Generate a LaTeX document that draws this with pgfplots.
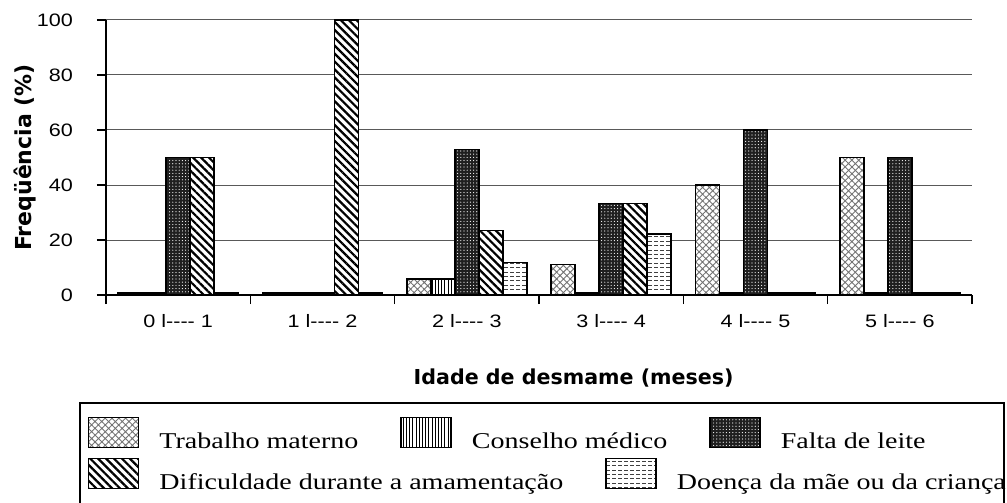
\documentclass[border=0pt]{standalone}
\usepackage{fontspec}
\usepackage{pgfplots}
\usepackage{pgfplotstable}
\pgfplotsset{compat=1.18}
\usetikzlibrary{patterns.meta}
\setmainfont{Liberation Serif}
\newfontfamily\ticksfont[FakeStretch=1.2]{Liberation Sans}
\newfontfamily\legfont[FakeStretch=1.24]{Liberation Serif}
\newfontfamily\labfont{DejaVu Sans}

\pgfdeclarepattern{
  name=hdashes,
  type=uncolored,
  bottom left={\pgfpoint{-0.1pt}{-0.1pt}},
  top right={\pgfpoint{3.1pt}{2.3pt}},
  tile size={\pgfpoint{3pt}{2.2pt}},
  code={
    \pgfsetlinewidth{0.45pt}
    \pgfpathmoveto{\pgfpoint{0pt}{1.1pt}}
    \pgfpathlineto{\pgfpoint{1.8pt}{1.1pt}}
    \pgfusepath{stroke}
  }
}

\pgfplotstableread{
x trab cons falta dific doenca
0 0.8 0.8 50 50 0.8
1 0.8 0.8 0.8 100 0.8
2 5.9 5.9 52.9 23.5 11.8
3 11.1 0.8 33.3 33.3 22.2
4 40 0.8 60 0.8 0.8
5 50 0.8 50 0.8 0.8
}\data

\pgfplotsset{
  legimg/.style={legend image code/.code={\draw[##1] (0pt,0.5pt) rectangle (25pt,15.5pt);}},
  trabstyle/.style={draw=black, line width=0.75pt, fill=white,
    postaction={pattern color=black!55, pattern={Hatch[angle=45,distance=2.4pt,line width=0.45pt]}}, legimg},
  consstyle/.style={draw=black, line width=0.75pt, fill=white,
    postaction={pattern color=black, pattern={Lines[angle=90,distance=1.6pt,line width=0.45pt]}}, legimg},
  faltastyle/.style={draw=black, line width=0.75pt, fill=black!88,
    postaction={pattern color=white, pattern={Dots[distance=1.6pt,radius=0.3pt]}}, legimg},
  dificstyle/.style={draw=black, line width=0.75pt, fill=white,
    postaction={pattern color=black, pattern={Lines[angle=-45,distance=2.8pt,line width=1.1pt]}}, legimg},
  doencastyle/.style={draw=black, line width=0.75pt, fill=white,
    postaction={pattern color=black!75, pattern=hdashes}, legimg},
  mylegend/.style={legend style={draw=none, fill=none, inner sep=0pt, outer sep=0pt,
    font=\legfont\fontsize{11.3}{13}\selectfont, cells={anchor=base west},
    /tikz/every odd column/.append style={column sep=8pt},
    /tikz/every even column/.append style={column sep=19pt}},
    legend columns=3},
}

\begin{document}
\begin{tikzpicture}
\begin{axis}[
  at={(0pt,0pt)}, anchor=south west,
  scale only axis, width=433pt, height=137.5pt,
  xmin=-0.5, xmax=5.5, ymin=0, ymax=100,
  clip=false,
  ybar=0pt, bar width=12pt,
  axis x line*=bottom, axis y line*=left,
  axis line style={line width=0.7pt, black},
  ytick={0,20,...,100},
  ymajorgrids, major grid style={black!65, line width=0.5pt},
  tick align=outside, major tick length=4.5pt,
  tick style={black, line width=0.6pt},
  xtick={-0.5,0.5,...,5.5}, xticklabels={},
  extra x ticks={0,1,2,3,4,5},
  extra x tick labels={0 l{-}{-}{-}{-} 1, 1 l{-}{-}{-}{-} 2, 2 l{-}{-}{-}{-} 3, 3 l{-}{-}{-}{-} 4, 4 l{-}{-}{-}{-} 5, 5 l{-}{-}{-}{-} 6},
  extra x tick style={major tick length=0pt, xticklabel style={yshift=-6pt}},
  /pgf/number format/assume math mode=true,
  tick label style={font=\ticksfont\fontsize{9}{10}\selectfont},
  yticklabel style={xshift=-8.5pt},
  xlabel={Idade de desmame (meses)},
  ylabel={Freqüência (\%)},
  every axis x label/.style={at={(axis description cs:0.54,0)}, yshift=-41.5pt, anchor=center,
    font=\labfont\bfseries\fontsize{10.3}{12}\selectfont},
  every axis y label/.style={at={(axis description cs:0,0.5)}, xshift=-40.5pt, rotate=90, anchor=center,
    font=\labfont\bfseries\fontsize{11}{13}\selectfont},
  mylegend,
  legend style={at={(axis description cs:-0.0208,-0.4436)}, anchor=north west},
]
\addplot[trabstyle] table[x=x,y=trab]{\data};
\addlegendentry{Trabalho materno}
\addplot[consstyle] table[x=x,y=cons]{\data};
\addlegendentry{Conselho médico}
\addplot[faltastyle] table[x=x,y=falta]{\data};
\addlegendentry{Falta de leite}
\addplot[dificstyle] table[x=x,y=dific]{\data};
\addplot[doencastyle] table[x=x,y=doenca]{\data};
\end{axis}
\begin{axis}[
  at={(0pt,0pt)}, anchor=south west,
  scale only axis, width=433pt, height=137.5pt,
  hide axis, xmin=0, xmax=1, ymin=0, ymax=1,
  mylegend,
  legend style={at={(axis description cs:-0.0208,-0.5927)}, anchor=north west},
]
\addlegendimage{dificstyle}
\addlegendentry{Dificuldade durante a amamentação}
\addlegendimage{doencastyle}
\addlegendentry{Doença da mãe ou da criança}
\end{axis}
\draw[line width=0.75pt] (-13pt,-54pt) rectangle (449pt,-106pt);
\pgfresetboundingbox
\path[use as bounding box] (-53pt,-104pt) rectangle (450.5pt,147.5pt);
\end{tikzpicture}
\end{document}
